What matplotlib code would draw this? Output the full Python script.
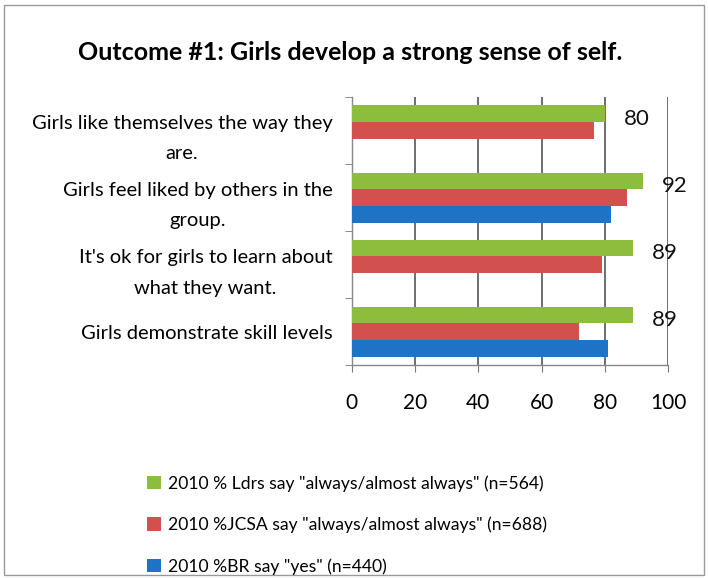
import matplotlib.pyplot as plt
import numpy as np

categories = [
    "Girls like themselves the way they\nare.",
    "Girls feel liked by others in the\ngroup.",
    "It's ok for girls to learn about\nwhat they want.",
    "Girls demonstrate skill levels",
]
ldrs = [80, 92, 89, 89]
jcsa = [76.5, 87, 79, 72]
br = [np.nan, 82, np.nan, 81]
value_labels = ["80", "92", "89", "89"]
series_names = [
    '2010 % Ldrs say "always/almost always" (n=564)',
    '2010 %JCSA say "always/almost always" (n=688)',
    '2010 %BR say "yes" (n=440)',
]
colors = ["#8dbd3c", "#d2504d", "#1e73c6"]

plt.rcParams['font.family'] = ['Lato', 'DejaVu Sans']

fig = plt.figure(figsize=(7.08, 5.78), dpi=100)
ax = fig.add_axes([0.497, 0.368, 0.4465, 0.464])

y = np.arange(len(categories))
h = 0.25
bars = []
for i, (vals, col) in enumerate(zip([ldrs, jcsa, br], colors)):
    b = ax.barh(y + (i - 1) * h, vals, height=h, color=col, zorder=3)
    bars.append(b)

for yi, v, lab in zip(y, ldrs, value_labels):
    ax.text(v + 10, yi - 0.17, lab, ha='center', va='center', fontsize=16, color='#111111')

ax.set_xlim(0, 100)
ax.set_ylim(len(categories) - 0.5, -0.5)
ax.set_xticks([0, 20, 40, 60, 80, 100])
ax.set_yticks(y)
ax.set_yticklabels(categories, fontsize=14.5, linespacing=1.95, ha='right')
for t in ax.get_yticklabels():
    t.set_multialignment('center')
ax.tick_params(axis='y', length=0, pad=14)
ax.set_yticks(np.arange(-0.5, len(categories)), minor=True)
ax.tick_params(axis='y', which='minor', length=5, color='#777777', direction='out')
ax.tick_params(axis='x', labelsize=15, length=5, color='#777777', direction='out', pad=15)
ax.grid(axis='x', color='#555555', linewidth=1.2, zorder=0)
for s in ['top', 'right']:
    ax.spines[s].set_visible(False)
for s in ['left', 'bottom']:
    ax.spines[s].set_color('#888888')
    ax.spines[s].set_linewidth(1.0)

fig.text(0.494, 0.91, "Outcome #1: Girls develop a strong sense of self.",
         ha='center', va='center', fontsize=18, fontweight='bold')

fig.legend(bars, series_names, loc='upper left', bbox_to_anchor=(0.198, 0.19),
           frameon=False, fontsize=12.6, handlelength=0.8, handleheight=0.8,
           handletextpad=0.4, labelspacing=1.42, borderaxespad=0)

border = plt.Rectangle((0.006, 0.006), 0.988, 0.985, transform=fig.transFigure,
                       fill=False, edgecolor='#999999', linewidth=1.0)
fig.patches.append(border)

fig.savefig("out.png", dpi=100)
